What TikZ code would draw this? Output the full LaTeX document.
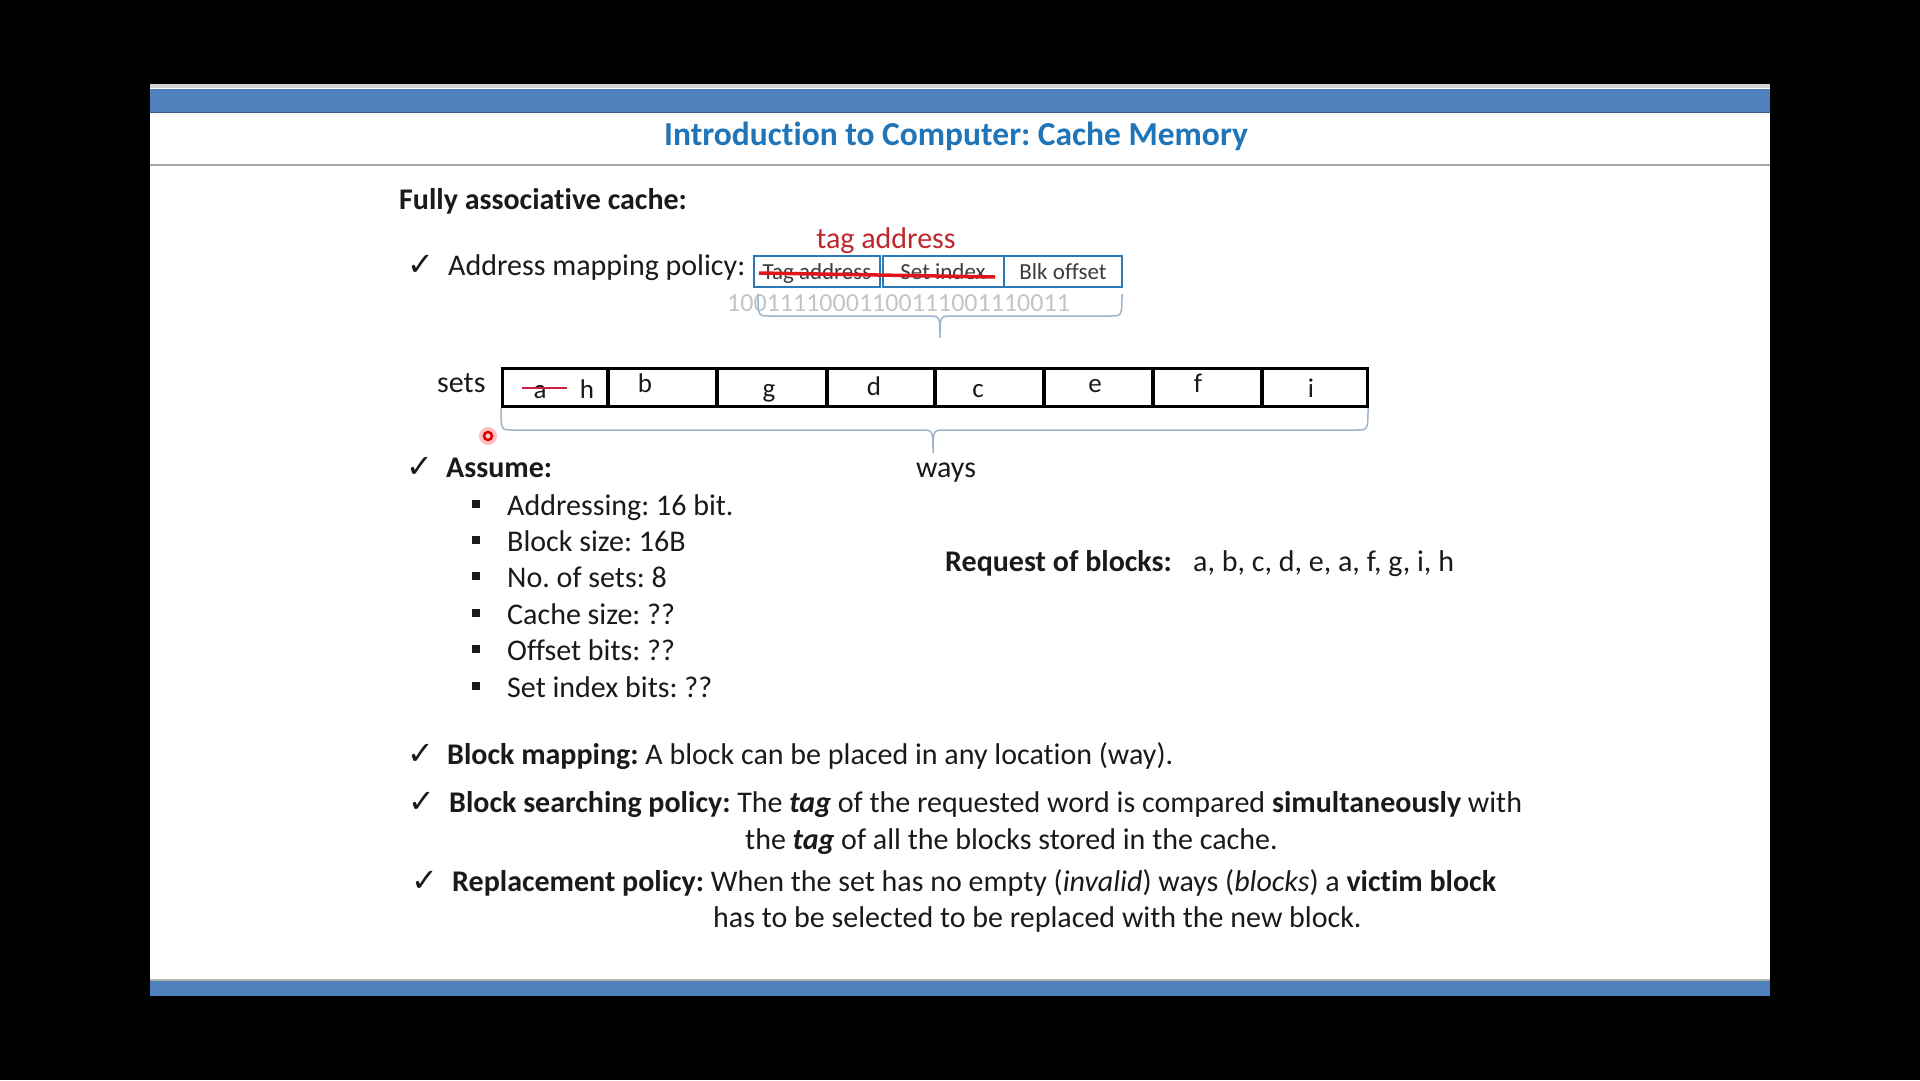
\documentclass[tikz,border=0pt]{standalone}
\usepackage{fontspec}
\setmainfont{Carlito}[Ligatures=NoCommon]
\newfontfamily\symfont{DejaVu Sans}
\definecolor{barblue}{HTML}{4F81BD}
\definecolor{titleblue}{HTML}{1F75B8}
\definecolor{boxblue}{HTML}{2E78B4}
\definecolor{bracegray}{HTML}{9FB4CB}
\definecolor{bitgray}{HTML}{C4C4C4}
\definecolor{tagred}{HTML}{C0272D}
\definecolor{strikered}{HTML}{E0161C}
\definecolor{txt}{HTML}{1A1A1A}
\frenchspacing
\tikzset{
  body/.style={font=\fontsize{30}{36}\selectfont, text=txt, inner sep=0pt, anchor=base west},
  titletext/.style={font=\fontsize{33.5}{40}\selectfont\bfseries, text=titleblue, inner sep=0pt, anchor=base},
  tick/.style={font=\symfont\fontsize{32}{36}\selectfont, text=txt, inner sep=0pt, anchor=base},
  fieldbox/.style={draw=boxblue, line width=2.6pt, fill=white, minimum height=31pt, inner sep=0pt},
  fieldtext/.style={font=\fontsize{23}{27}\selectfont, text=txt!85, inner sep=0pt, anchor=base},
  cell/.style={draw=black, line width=3pt, minimum height=38pt, inner sep=0pt},
  celltext/.style={font=\fontsize{27}{32}\selectfont, text=txt, inner sep=0pt, anchor=base},
  bracelook/.style={draw=bracegray, line width=1.5pt},
  bulletsq/.style={fill=txt, minimum size=8pt, inner sep=0pt},
}
\begin{document}
\begin{tikzpicture}[x=1pt,y=-1pt]
\useasboundingbox (0,0) rectangle (1920,1080);
% screen and slide
\fill[black] (0,0) rectangle (1920,1080);
\fill[white] (150,84) rectangle (1770,996);
\fill[gray!35] (150,84) rectangle (1770,88);
\fill[barblue] (150,89) rectangle (1770,112);
\draw[barblue!70!black, line width=1pt] (150,112) -- (1770,112);
\draw[gray!70, line width=2pt] (150,165) -- (1770,165);
\draw[gray!60, line width=2pt] (150,980) -- (1770,980);
\fill[barblue] (150,981) rectangle (1770,996);

% title
\node[titletext] (title) at (956,145) {Introduction to Computer: Cache Memory};

% heading
\node[body, font=\fontsize{30}{36}\selectfont\bfseries] (heading) at (399,209) {Fully associative cache:};

% address mapping policy
\node[tick] (ck1) at (421,275) {✓};
\node[body] (amp) at (448,275) {Address mapping policy:};
\node[fieldbox, minimum width=126pt] (ftag) at (817,271.5) {};
\node[fieldbox, minimum width=121pt] (fset) at (943.5,271.5) {};
\node[fieldbox, minimum width=118pt] (foff) at (1063,271.5) {};
\node[fieldtext] (ttag) at (817,279) {Tag address};
\node[fieldtext] (tset) at (943,279) {Set index};
\node[fieldtext] (toff) at (1063,279) {Blk offset};
\coordinate (s1) at (759,273);
\coordinate (s2) at (995,277);
\draw[strikered, line width=3.5pt] (s1) -- (s2);
\node[body, font=\fontsize{30}{36}\selectfont, text=tagred, anchor=base] (tagaddr) at (886,248) {tag address};
\node[body, font=\fontsize{26}{30}\selectfont, text=bitgray] (bits) at (727,311) {10011110001100111001110011};
% brace under the address bits
\draw[bracelook] (758,294) .. controls (758,316) .. (770,316) -- (928,316)
  .. controls (940,316) .. (940,338) .. controls (940,316) .. (952,316)
  -- (1110,316) .. controls (1122,316) .. (1122,294);

% sets row
\node[body] (sets) at (437,392) {sets};
\foreach \n/\xa/\xb in {1/502/607, 2/608/716, 3/717/826, 4/827/934, 5/935/1043, 6/1044/1152, 7/1153/1261, 8/1262/1367}
  \draw[cell] (\xa,368) rectangle (\xb,406) coordinate (cell\n);
\node[celltext] (la) at (540,398) {a};
\node[celltext] (lh) at (587,398) {h};
\coordinate (sa1) at (522,388);
\coordinate (sa2) at (567,388);
\draw[tagred!90!magenta, line width=2.2pt] (sa1) -- (sa2);
\node[celltext] (lb) at (645,392) {b};
\node[celltext] (lg) at (769,397) {g};
\node[celltext] (ld) at (874,395) {d};
\node[celltext] (lc) at (978,397) {c};
\node[celltext] (le) at (1095,392) {e};
\node[celltext] (lf) at (1198,392) {f};
\node[celltext] (li) at (1311,397) {i};
% brace under the ways
\draw[bracelook] (501,408) .. controls (501,430) .. (513,430) -- (921,430)
  .. controls (933,430) .. (933,453) .. controls (933,430) .. (945,430)
  -- (1356,430) .. controls (1368,430) .. (1368,408);
\node[body, anchor=base] (ways) at (946,477) {ways};

% pointer mark
\fill[red!25] (488,436) circle (9pt);
\draw[red!85!black, line width=2.5pt, fill=red!20] (488,436) circle (4pt);

% assumptions
\node[tick] (ck2) at (420,477) {✓};
\node[body, font=\fontsize{30}{36}\selectfont\bfseries] (assume) at (446,477) {Assume:};
\foreach \yy/\t in {515/{Addressing: 16 bit.}, 551/{Block size: 16B}, 587/{No. of sets: 8}, 624/{Cache size: ??}, 660/{Offset bits: ??}, 697/{Set index bits: ??}} {
  \node[bulletsq] at (476,\yy-11) {};
  \node[body] at (507,\yy) {\t};
}

% request sequence
\node[body, font=\fontsize{30}{36}\selectfont\bfseries] (req) at (945,571) {Request of blocks:};
\node[body] (seq) at (1193,571) {a, b, c, d, e, a, f, g, i, h};

% policies
\node[tick] (ck3) at (421,764) {✓};
\node[body] (bmap) at (447,764) {\textbf{Block mapping:} A block can be placed in any location (way).};
\node[tick] (ck4) at (422,812) {✓};
\node[body] (bsearch) at (449,812) {\textbf{Block searching policy:} The \textbf{\textit{tag}} of the requested word is compared \textbf{simultaneously} with};
\node[body] (bsearch2) at (745,849) {the \textbf{\textit{tag}} of all the blocks stored in the cache.};
\node[tick] (ck5) at (425,891) {✓};
\node[body] (repl) at (452,891) {\textbf{Replacement policy:} When the set has no empty (\textit{invalid}) ways (\textit{blocks}) a \textbf{victim block}};
\node[body] (repl2) at (713,927) {has to be selected to be replaced with the new block.};
\end{tikzpicture}
\end{document}
